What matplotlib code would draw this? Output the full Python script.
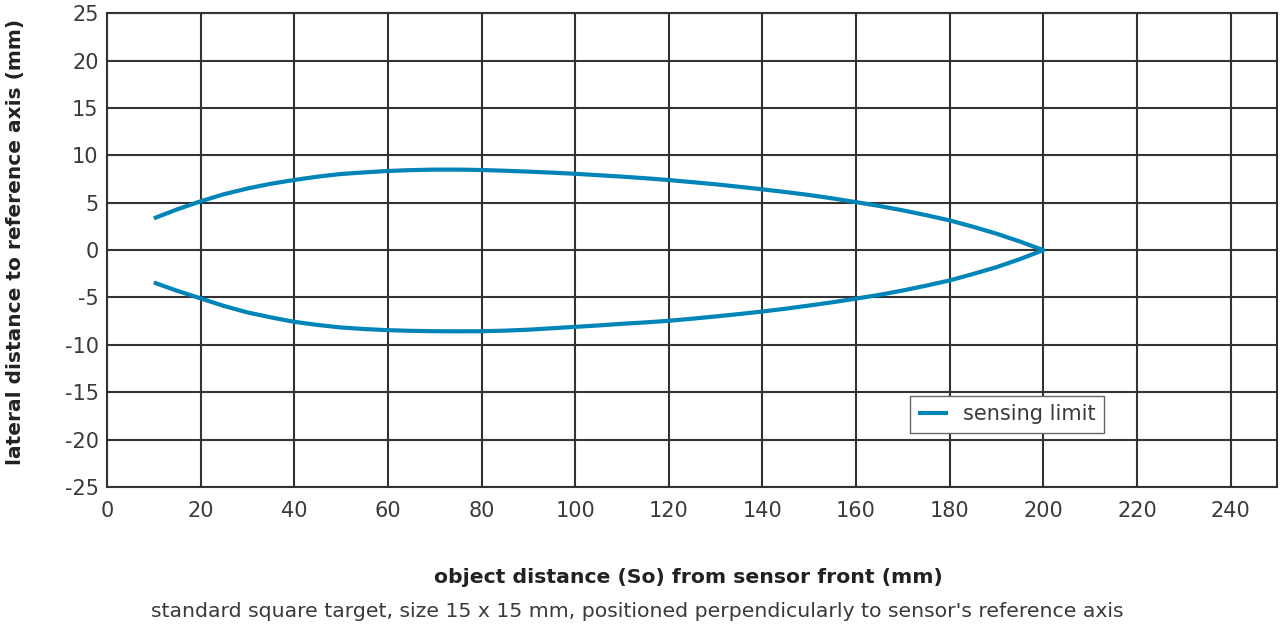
import matplotlib
matplotlib.use("Agg")
import matplotlib.pyplot as plt

plt.rcParams["font.family"] = ["DejaVu Sans"]
plt.rcParams["axes.unicode_minus"] = False

# sensing limit, every 5 mm (object distance vs lateral offset)
x_upper = [10, 15, 20, 25, 30, 35, 40, 45, 50, 55, 60, 65, 70, 75, 80, 85, 90, 95, 100,
           105, 110, 115, 120, 125, 130, 135, 140, 145, 150, 155, 160, 165, 170, 175,
           180, 185, 190, 195, 200]
y_upper = [3.35, 4.3, 5.15, 5.9, 6.5, 7.0, 7.4, 7.75, 8.03, 8.2, 8.35, 8.44, 8.49, 8.49, 8.45,
           8.37, 8.28, 8.17, 8.05, 7.9, 7.75, 7.58, 7.39, 7.17, 6.94, 6.68, 6.41, 6.12,
           5.81, 5.45, 5.06, 4.65, 4.19, 3.68, 3.13, 2.46, 1.73, 0.9, 0.0]
x_lower = [200, 195, 190, 185, 180, 175, 170, 165, 160, 155, 150, 145, 140, 135, 130, 125,
           120, 115, 110, 105, 100, 95, 90, 85, 80, 75, 70, 65, 60, 55, 50, 45, 40, 35,
           30, 25, 20, 15, 10]
y_lower = [0.0, -0.95, -1.8, -2.52, -3.2, -3.75, -4.26, -4.72, -5.12, -5.5, -5.85, -6.18,
           -6.48, -6.75, -7.0, -7.24, -7.46, -7.63, -7.78, -7.95, -8.1, -8.25, -8.4, -8.5,
           -8.56, -8.57, -8.56, -8.52, -8.45, -8.33, -8.17, -7.9, -7.57, -7.1, -6.58, -5.9,
           -5.1, -4.3, -3.42]

x_ticks = list(range(0, 241, 20))
y_ticks = list(range(-25, 26, 5))

line_color = "#0085b8"
text_color = "#3a3a3a"
grid_color = "#333333"

fig = plt.figure(figsize=(12.8, 6.26), dpi=100)
ax = fig.add_axes([0.0836, 0.222, 0.9144, 0.757])

ax.plot(x_upper + x_lower, y_upper + y_lower, color=line_color, linewidth=3.0,
        solid_capstyle="butt", solid_joinstyle="round", label="sensing limit")

ax.set_xlim(0, 250)
ax.set_ylim(-25, 25)
ax.set_xticks(x_ticks)
ax.set_yticks(y_ticks)
ax.grid(True, color=grid_color, linewidth=1.5)
ax.set_axisbelow(True)
for side in ax.spines.values():
    side.set_color(grid_color)
    side.set_linewidth(1.5)
ax.tick_params(length=0, labelsize=15, colors=text_color)
ax.tick_params(axis="x", pad=10)
ax.tick_params(axis="y", pad=6)

ax.set_xlabel("object distance (So) from sensor front (mm)", fontsize=14.7,
              fontweight="bold", color="#222222")
ax.xaxis.set_label_coords(0.497, -0.19)
ax.xaxis.label.set_va("center")

ax.set_ylabel("lateral distance to reference axis (mm)", fontsize=14.5,
              fontweight="bold", color="#222222")
ax.yaxis.set_label_coords(-0.0786, 0.517)
ax.yaxis.label.set_va("center")

fig.text(0.498, 0.0224, "standard square target, size 15 x 15 mm, positioned perpendicularly "
         "to sensor's reference axis", ha="center", va="center", fontsize=14.7,
         color=text_color)

leg = ax.legend(loc="upper left", bbox_to_anchor=(0.686, 0.192), borderaxespad=0,
                fontsize=15, fancybox=False, framealpha=1, handlelength=1.45,
                handletextpad=0.7, borderpad=0.4)
leg.get_frame().set_edgecolor("#666666")
leg.get_frame().set_linewidth(1.0)
for t in leg.get_texts():
    t.set_color(text_color)

fig.savefig("out.png", dpi=100)
